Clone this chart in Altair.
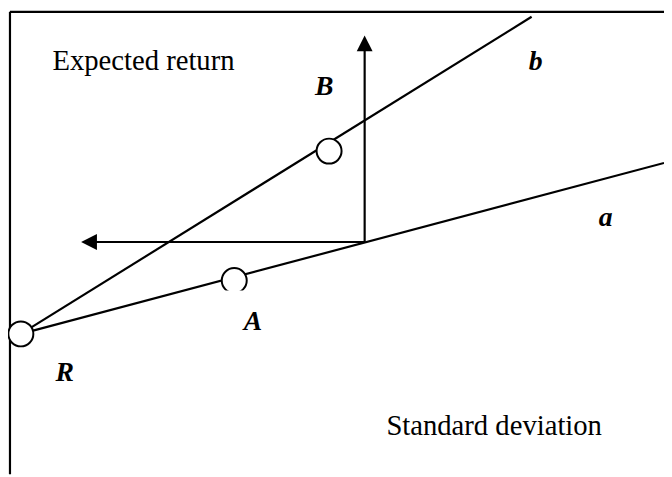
import altair as alt
import pandas as pd

# Diagram units: x = standard deviation axis, y = expected return axis
W, H = 664, 469

# line segments
seg_name = ["left_axis", "top_border", "line_b", "line_a", "vert_arrow", "horiz_arrow"]
seg_x = [2, 2, 13, 13, 361, 361]
seg_y = [0, 468, 142, 142, 235, 235]
seg_x2 = [2, 664, 530, 664, 361, 88]
seg_y2 = [468, 468, 463, 315, 429, 235]

# arrow heads
head_dir = ["up", "left"]
head_x = [361, 82]
head_y = [436, 235]

# portfolio circles
circ_name = ["R", "A", "B"]
circ_x = [13, 229, 325]
circ_y = [142, 196, 327]

# small white mask under circle A (clipped look)
mask_x, mask_x2 = [213], [246]
mask_y, mask_y2 = [176], [186]

# axis titles (plain serif)
title_text = ["Expected return", "Standard deviation"]
title_x = [45, 383]
title_y = [409, 40]

# point / line labels (bold italic)
lab_text = ["B", "b", "a", "A", "R"]
lab_x = [320, 534, 605, 248, 57.5]
lab_y = [384, 409, 251, 146, 94]

xs = alt.Scale(domain=[0, W], nice=False, zero=False)
ys = alt.Scale(domain=[0, H], nice=False, zero=False)

seg_df = pd.DataFrame({"name": seg_name, "x": seg_x, "y": seg_y, "x2": seg_x2, "y2": seg_y2})
head_df = pd.DataFrame({"dir": head_dir, "x": head_x, "y": head_y})
circ_df = pd.DataFrame({"name": circ_name, "x": circ_x, "y": circ_y})
mask_df = pd.DataFrame({"x": mask_x, "x2": mask_x2, "y": mask_y, "y2": mask_y2})
title_df = pd.DataFrame({"t": title_text, "x": title_x, "y": title_y})
lab_df = pd.DataFrame({"t": lab_text, "x": lab_x, "y": lab_y})

segs = alt.Chart(seg_df).mark_rule(color="black", strokeWidth=2.2).encode(
    x=alt.X("x:Q", scale=xs, axis=None),
    y=alt.Y("y:Q", scale=ys, axis=None),
    x2="x2:Q",
    y2="y2:Q",
)

heads = alt.Chart(head_df).mark_point(filled=True, color="black", size=256, opacity=1).encode(
    x=alt.X("x:Q", scale=xs, axis=None),
    y=alt.Y("y:Q", scale=ys, axis=None),
    shape=alt.Shape(
        "dir:N",
        scale=alt.Scale(domain=["up", "left"], range=["M0,-1L-1,1L1,1Z", "M-1,0L1,-1L1,1Z"]),
        legend=None,
    ),
)

circles = alt.Chart(circ_df).mark_point(
    shape="circle", size=640, fill="white", stroke="black", strokeWidth=2, opacity=1, fillOpacity=1
).encode(
    x=alt.X("x:Q", scale=xs, axis=None),
    y=alt.Y("y:Q", scale=ys, axis=None),
)

mask = alt.Chart(mask_df).mark_rect(color="white").encode(
    x=alt.X("x:Q", scale=xs, axis=None),
    x2="x2:Q",
    y=alt.Y("y:Q", scale=ys, axis=None),
    y2="y2:Q",
)

titles = alt.Chart(title_df).mark_text(
    font="Liberation Serif", fontSize=29, align="left", baseline="alphabetic", color="black"
).encode(
    x=alt.X("x:Q", scale=xs, axis=None),
    y=alt.Y("y:Q", scale=ys, axis=None),
    text="t:N",
)

labels = alt.Chart(lab_df).mark_text(
    font="Liberation Serif", fontSize=28, fontStyle="italic", fontWeight="bold",
    align="center", baseline="alphabetic", color="black"
).encode(
    x=alt.X("x:Q", scale=xs, axis=None),
    y=alt.Y("y:Q", scale=ys, axis=None),
    text="t:N",
)

chart = alt.layer(segs, heads, circles, mask, titles, labels).properties(
    width=W, height=H, padding=0, autosize=alt.AutoSizeParams(type="none")
).configure_view(stroke=None)

chart.save("out.html", embed_options={"renderer": "svg", "actions": False})
